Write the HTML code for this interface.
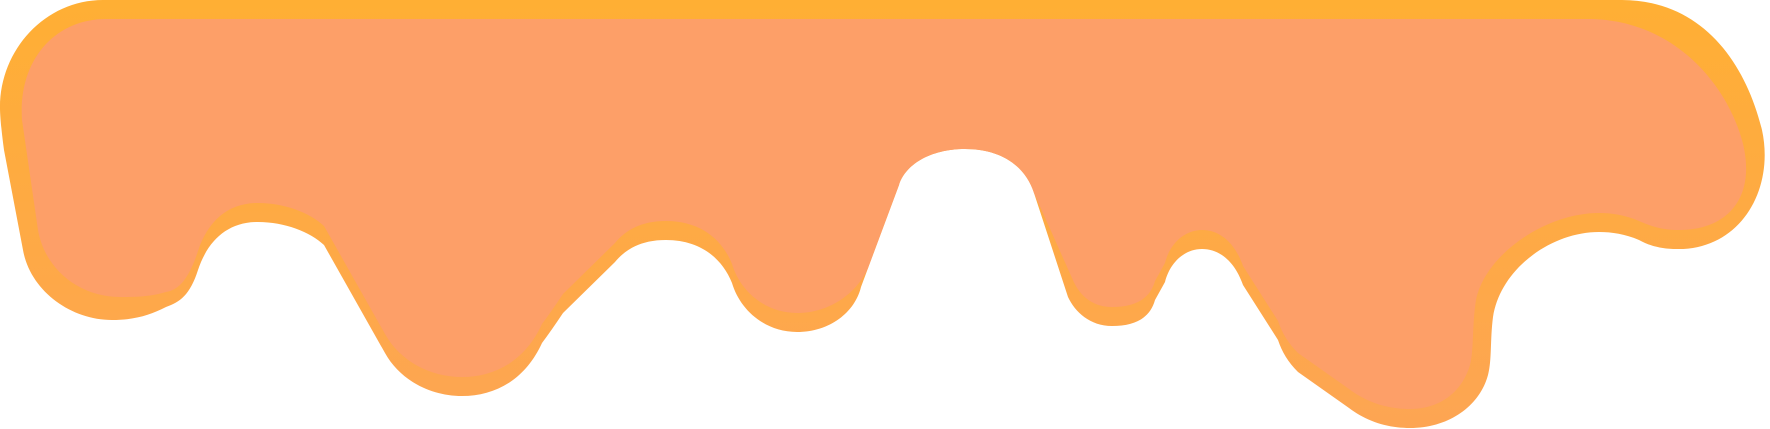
<!DOCTYPE html>
<html>
<head>
<meta charset="utf-8">
<style>
  html,body{margin:0;padding:0;background:#ffffff;}
  svg{display:block;}
</style>
</head>
<body>
<svg width="1770" height="429" viewBox="0 0 1770 429" xmlns="http://www.w3.org/2000/svg">
  <defs>
    <linearGradient id="og" x1="0" y1="0" x2="0" y2="1">
      <stop offset="0" stop-color="#FFAF34"/>
      <stop offset="1" stop-color="#FDA553"/>
    </linearGradient>
  </defs>
  <path fill="url(#og)" d="
    M103,0 L1622,0 C1700,0 1745,60 1762,130 C1775,190 1740,250 1677,249
    C1660,249 1648,245 1639,240 C1625,234 1612,232 1599,232
    C1550,232 1500,270 1493,317 C1490,340 1492,360 1488,375
    C1480,405 1450,428 1410,428 C1385,428 1365,420 1349,408
    L1298,372 C1288,362 1282,352 1278,340 L1243,285
    C1235,262 1220,249 1202,249 C1185,249 1170,262 1165,282
    L1155,300 C1150,318 1135,326 1112,326 C1090,326 1075,312 1068,297
    L1034,193 C1025,165 1000,149 965,149 C930,149 905,165 899,185
    L861,287 C855,312 830,332 797,332 C765,332 740,310 732,283
    C722,258 700,240 666,240 C640,240 625,250 615,262
    L563,313 C555,325 548,335 542,343 C525,380 495,396 462,396
    C430,396 400,380 385,353 L324,245 C310,232 285,222 258,222
    C228,222 208,240 198,270 C190,295 180,302 166,307
    C150,315 135,320 112,320 C70,320 30,290 23,250
    L4,150 C0,120 0,110 0,107 C0,50 45,0 103,0 Z"/>
  <path fill="#FD9F68" d="
    M106,19 L1588,19 C1670,19 1725,80 1742,140 C1757,195 1730,230 1679,230
    C1662,230 1650,226 1639,221 C1625,215 1612,213 1599,213
    C1545,213 1485,255 1476,300 C1472,325 1474,350 1470,365
    C1462,392 1440,409 1410,409 C1385,409 1365,401 1349,389
    L1298,353 C1288,343 1282,333 1278,321 L1243,266
    C1235,243 1220,230 1202,230 C1185,230 1170,243 1165,263
    L1155,281 C1150,299 1135,307 1112,307 C1090,307 1078,293 1072,278
    L1034,193 C1025,165 1000,149 965,149 C930,149 905,165 899,185
    L868,268 C857,293 830,313 797,313 C765,313 740,291 732,264
    C722,239 700,221 666,221 C640,221 625,231 615,243
    L563,294 C555,306 548,316 542,324 C525,361 495,377 462,377
    C430,377 400,361 385,334 L324,226 C310,213 285,203 258,203
    C228,203 208,221 198,251 C190,276 180,290 166,292
    C150,297 135,297 120,297 C80,297 45,270 38,230
    L22,120 C18,60 55,19 106,19 Z"/>
</svg>
</body>
</html>
